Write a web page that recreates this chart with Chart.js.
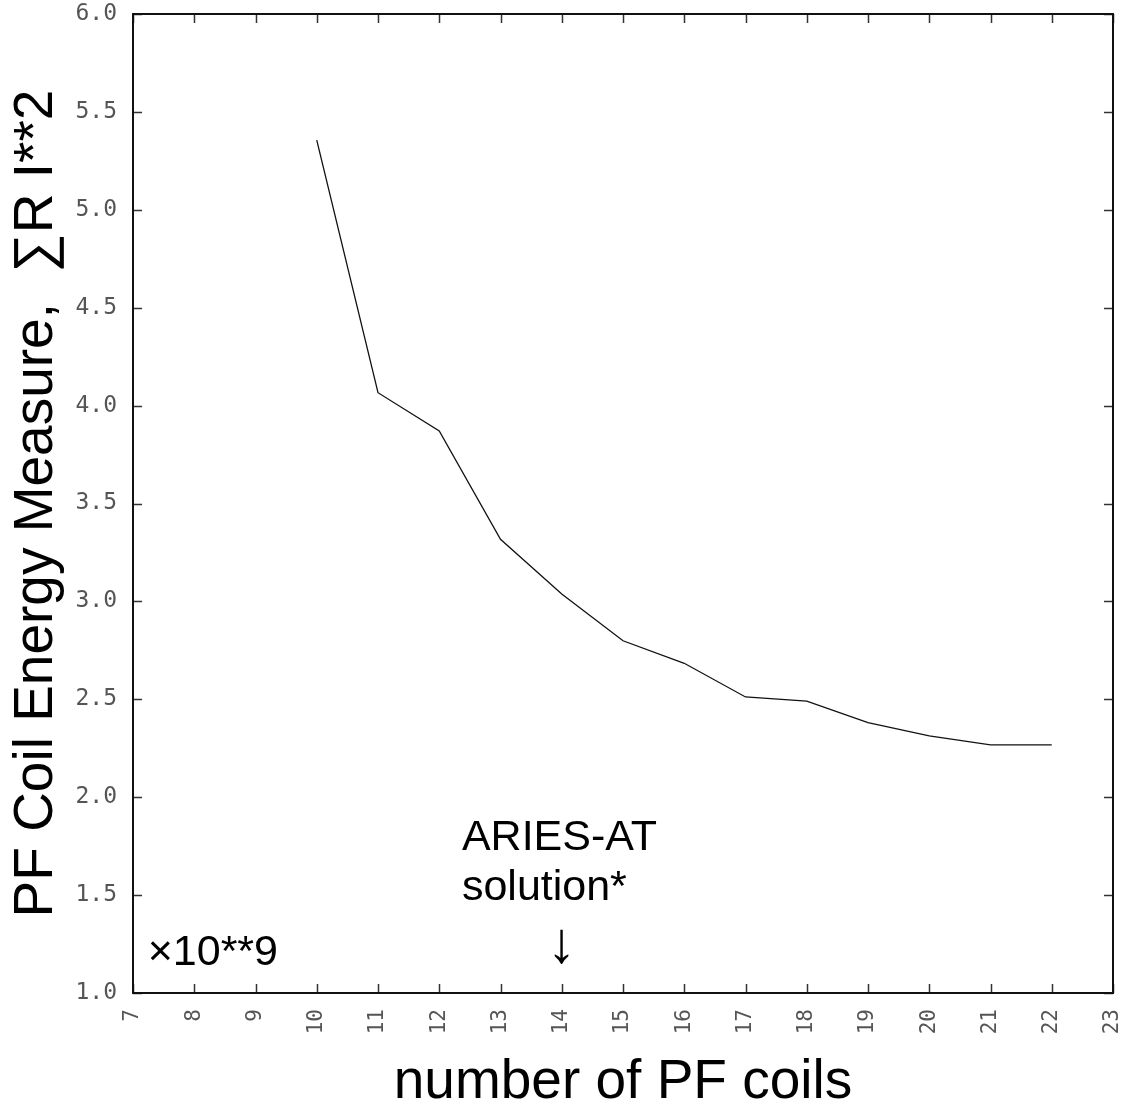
<!DOCTYPE html>
<html>
<head>
<meta charset="utf-8">
<script src="https://cdn.jsdelivr.net/npm/chart.js@4.4.1/dist/chart.umd.min.js"></script>
<style>
    html, body { margin: 0; padding: 0; background: #fff; }
    #wrap { width: 1136px; height: 1116px; position: relative; }
</style>
</head>
<body>
<div id="wrap"><canvas id="chart"></canvas></div>
<script>
// number of PF coils vs. energy measure (in units of 10**9)
const coils = [10, 11, 12, 13, 14, 15, 16, 17, 18, 19, 20, 21, 22];
const energy = [5.356, 4.066, 3.870, 3.317, 3.038, 2.799, 2.684, 2.512, 2.491, 2.381, 2.313, 2.267, 2.267];

const xTickLabels = ['7', '8', '9', '10', '11', '12', '13', '14', '15', '16', '17', '18', '19', '20', '21', '22', '23'];
const yTickLabels = ['1.0', '1.5', '2.0', '2.5', '3.0', '3.5', '4.0', '4.5', '5.0', '5.5', '6.0'];

const xTitle = 'number of PF coils';
const yTitle = 'PF Coil Energy Measure,  \u2211R I**2';

// notes written inside the plot (x, y in data units, y = baseline)
const notes = [
    { text: '\u00d710**9', x: 7.24, y: 1.143, size: 43, align: 'left' },
    { text: 'ARIES-AT', x: 12.37, y: 1.73, size: 43, align: 'left' },
    { text: 'solution*', x: 12.37, y: 1.475, size: 43, align: 'left' },
    { text: '\u2193', x: 14, y: 1.16, size: 58, align: 'center' }
];

const tickFont = '"DejaVu Sans Mono", monospace';
const textFont = '"Liberation Sans", Arial, sans-serif';

// убираем автоматические отступы под крайние подписи делений
function fixPadding(scale) {
    scale.paddingTop = 0;
    scale.paddingBottom = 0;
    scale.paddingLeft = 0;
    scale.paddingRight = 0;
}

// рамка, внутренние засечки и подписи
const framePlugin = {
    id: 'frame',
    afterDraw(chart) {
        const ctx = chart.ctx;
        const a = chart.chartArea;
        const x = chart.scales.x;
        const y = chart.scales.y;
        ctx.save();

        // засечки внутрь
        ctx.strokeStyle = '#333';
        ctx.lineWidth = 1.5;
        ctx.beginPath();
        x.ticks.forEach(t => {
            const px = Math.round(x.getPixelForValue(t.value)) + 0.5;
            ctx.moveTo(px, a.bottom); ctx.lineTo(px, a.bottom - 9);
            ctx.moveTo(px, a.top); ctx.lineTo(px, a.top + 9);
        });
        y.ticks.forEach(t => {
            const py = Math.round(y.getPixelForValue(t.value)) + 0.5;
            ctx.moveTo(a.left, py); ctx.lineTo(a.left + 9, py);
            ctx.moveTo(a.right, py); ctx.lineTo(a.right - 9, py);
        });
        ctx.stroke();

        // рамка
        ctx.strokeStyle = '#111';
        ctx.lineWidth = 2;
        ctx.strokeRect(a.left, a.top, a.right - a.left, a.bottom - a.top);

        // надписи
        ctx.fillStyle = '#000';
        ctx.textBaseline = 'alphabetic';
        notes.forEach(n => {
            ctx.font = n.size + 'px ' + textFont;
            ctx.textAlign = n.align;
            ctx.fillText(n.text, x.getPixelForValue(n.x), y.getPixelForValue(n.y));
        });
        ctx.restore();
    }
};

const ctx = document.getElementById('chart').getContext('2d');
const chart = new Chart(ctx, {
    type: 'line',
    data: {
        datasets: [{
            data: coils.map((c, i) => ({ x: c, y: energy[i] })),
            borderColor: '#111',
            borderWidth: 1.3,
            pointRadius: 0,
            tension: 0,
            fill: false
        }]
    },
    options: {
        responsive: true,
        maintainAspectRatio: false,
        animation: false,
        devicePixelRatio: 1,
        layout: {
            padding: { top: 14, right: 23, left: 0, bottom: 0 }
        },
        plugins: {
            legend: { display: false },
            tooltip: { enabled: false }
        },
        scales: {
            x: {
                type: 'linear',
                min: 7,
                max: 23,
                grid: { display: false },
                border: { display: false },
                ticks: {
                    stepSize: 1,
                    autoSkip: false,
                    minRotation: 90,
                    maxRotation: 90,
                    padding: 8,
                    color: '#555',
                    font: { family: tickFont, size: 21 },
                    callback: (v, i) => xTickLabels[i]
                },
                title: {
                    display: true,
                    text: xTitle,
                    color: '#000',
                    font: { family: textFont, size: 55 },
                    padding: { top: 0, bottom: 0 }
                },
                afterFit: scale => { scale.height = 123; fixPadding(scale); }
            },
            y: {
                type: 'linear',
                min: 1,
                max: 6,
                grid: { display: false },
                border: { display: false },
                ticks: {
                    stepSize: 0.5,
                    padding: 8,
                    color: '#555',
                    font: { family: tickFont, size: 23 },
                    callback: (v, i) => yTickLabels[i]
                },
                title: {
                    display: true,
                    text: yTitle,
                    color: '#000',
                    font: { family: textFont, size: 55 },
                    padding: { top: 4, bottom: 0 }
                },
                afterFit: scale => { scale.width = 133; fixPadding(scale); }
            }
        }
    },
    plugins: [framePlugin]
});
</script>
</body>
</html>
